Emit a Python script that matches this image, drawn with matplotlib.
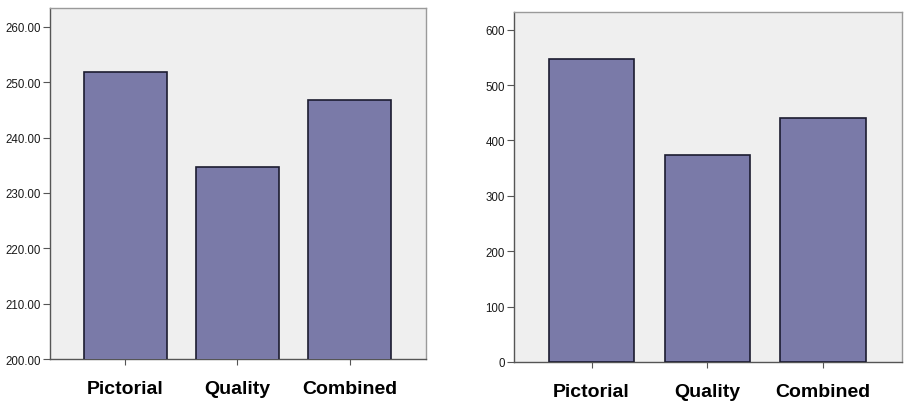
import matplotlib.pyplot as plt
from matplotlib.ticker import FormatStrFormatter

plt.rcParams['font.family'] = ['Liberation Sans', 'DejaVu Sans']

categories = ['Pictorial', 'Quality', 'Combined']
left_values = [251.8, 234.7, 246.8]
right_values = [548, 374, 441]
left_ticks = [200, 210, 220, 230, 240, 250, 260]
right_ticks = [0, 100, 200, 300, 400, 500, 600]

bar_color = '#7a7aa8'
edge_color = '#1c1c30'
face_color = '#efefef'
spine_color = '#9a9a9a'

fig = plt.figure(figsize=(9.05, 4.02), dpi=100)
ax1 = fig.add_axes([50/905, 42/402, 376/905, 351/402])
ax2 = fig.add_axes([514/905, 39/402, 388/905, 350/402])


def style(ax, values, ticks, ylim, fmt):
    x = range(len(categories))
    ax.bar(x, values, width=0.74, color=bar_color, edgecolor=edge_color,
           linewidth=1.2, zorder=3)
    ax.set_facecolor(face_color)
    ax.set_xlim(-0.67, 2.68)
    ax.set_ylim(*ylim)
    ax.set_yticks(ticks)
    ax.yaxis.set_major_formatter(FormatStrFormatter(fmt))
    ax.set_xticks(list(x))
    ax.set_xticklabels(categories, fontsize=14, fontweight='bold')
    ax.tick_params(axis='x', length=4, width=0.8, color='#555555', pad=11)
    ax.tick_params(axis='y', length=5, width=0.8, color='#555555',
                   labelsize=8.3, pad=1.5, labelcolor='#1a1a1a')
    for s in ax.spines.values():
        s.set_color(spine_color)
        s.set_linewidth(1.0)
    ax.spines['left'].set_color('#555555')
    ax.spines['bottom'].set_color('#555555')


style(ax1, left_values, left_ticks, (200, 263.4), '%.2f')
style(ax2, right_values, right_ticks, (0, 632), '%d')

fig.savefig('out.png', dpi=100, facecolor='white')
